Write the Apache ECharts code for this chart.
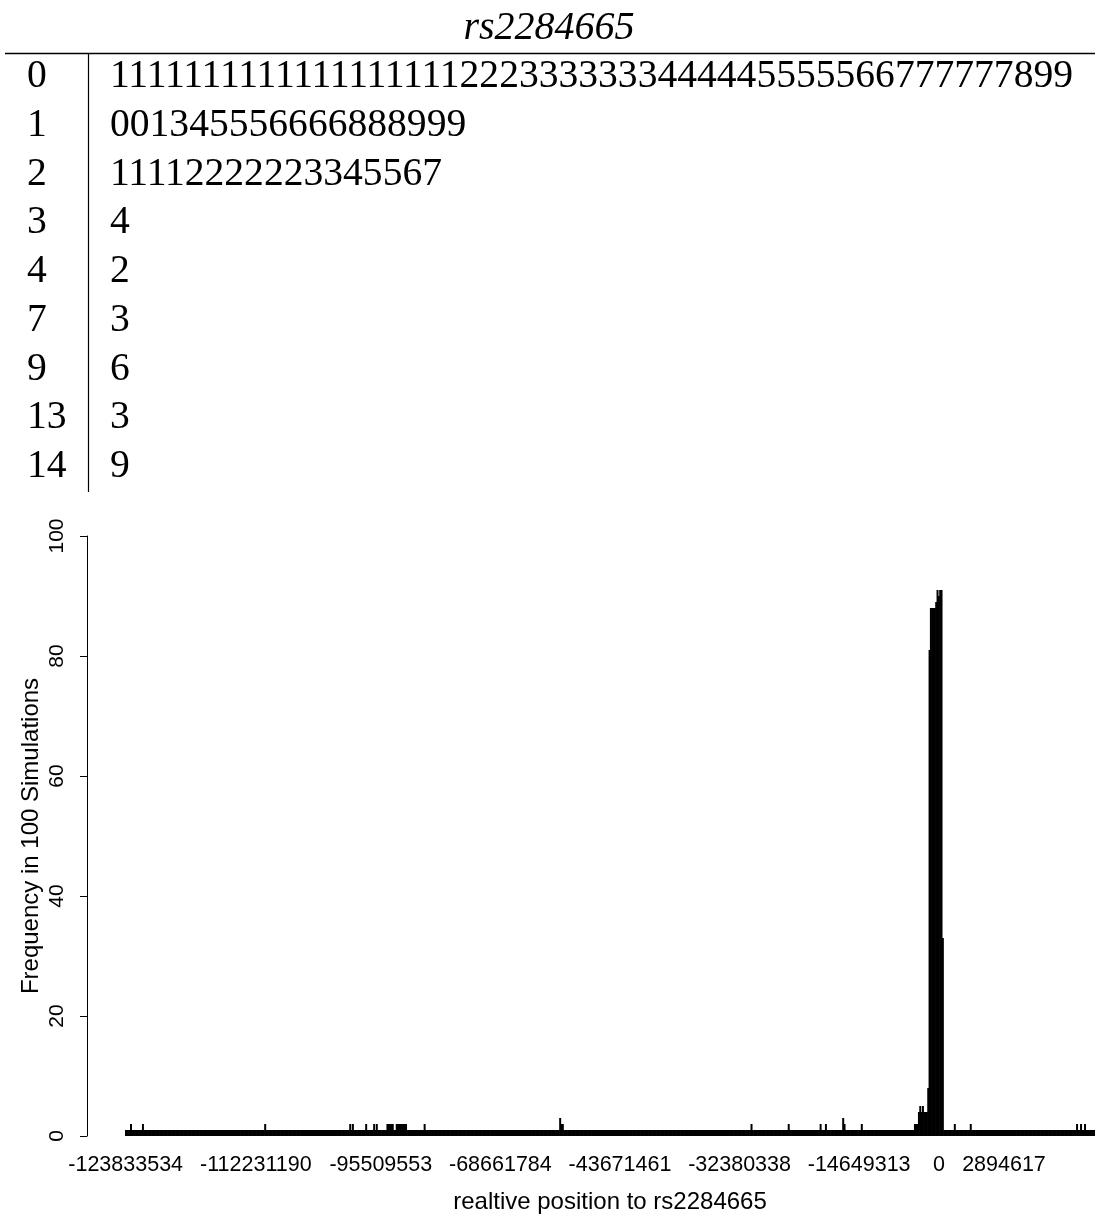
<!DOCTYPE html>
<html>
<head>
<meta charset="utf-8">
<script src="https://cdn.jsdelivr.net/npm/echarts@6/dist/echarts.min.js"></script>
<style>
html,body{margin:0;padding:0;background:#fff;}
#main{width:1108px;height:1218px;}
</style>
</head>
<body>
<div id="main"></div>
<script>
// ---- stem-and-leaf display ----
const stemTitle = 'rs2284665';
const stems = ['0', '1', '2', '3', '4', '7', '9', '13', '14'];
const leaves = [
  '11111111111111111112223333333444445555566777777899',
  '001345556666888999',
  '11112222223345567',
  '4',
  '2',
  '3',
  '6',
  '3',
  '9'
];

// ---- bar chart: frequency per position (730 positions, left to right) ----
const values = [
  1,1,1,1,2,1,1,1,1,1, 1,1,1,2,1,1,1,1,1,1, 1,1,1,1,1,1,1,1,1,1, 1,1,1,1,1,1,1,1,1,1, 1,1,1,1,1,1,1,1,1,1,
  1,1,1,1,1,1,1,1,1,1, 1,1,1,1,1,1,1,1,1,1, 1,1,1,1,1,1,1,1,1,1, 1,1,1,1,1,1,1,1,1,1, 1,1,1,1,1,1,1,1,1,1,
  1,1,1,1,1,2,1,1,1,1, 1,1,1,1,1,1,1,1,1,1, 1,1,1,1,1,1,1,1,1,1, 1,1,1,1,1,1,1,1,1,1, 1,1,1,1,1,1,1,1,1,1,
  1,1,1,1,1,1,1,1,1,1, 1,1,1,1,1,1,1,1,1,2, 1,2,1,1,1,1,1,1,1,1, 1,2,1,1,1,1,1,2,1,2, 1,1,1,1,1,1,1,2,2,2,
  2,2,1,1,2,2,2,2,2,2, 2,2,1,1,1,1,1,1,1,1, 1,1,1,1,1,2,1,1,1,1, 1,1,1,1,1,1,1,1,1,1, 1,1,1,1,1,1,1,1,1,1,
  1,1,1,1,1,1,1,1,1,1, 1,1,1,1,1,1,1,1,1,1, 1,1,1,1,1,1,1,1,1,1, 1,1,1,1,1,1,1,1,1,1, 1,1,1,1,1,1,1,1,1,1,
  1,1,1,1,1,1,1,1,1,1, 1,1,1,1,1,1,1,1,1,1, 1,1,1,1,1,1,1,3,2,2, 1,1,1,1,1,1,1,1,1,1, 1,1,1,1,1,1,1,1,1,1,
  1,1,1,1,1,1,1,1,1,1, 1,1,1,1,1,1,1,1,1,1, 1,1,1,1,1,1,1,1,1,1, 1,1,1,1,1,1,1,1,1,1, 1,1,1,1,1,1,1,1,1,1,
  1,1,1,1,1,1,1,1,1,1, 1,1,1,1,1,1,1,1,1,1, 1,1,1,1,1,1,1,1,1,1, 1,1,1,1,1,1,1,1,1,1, 1,1,1,1,1,1,1,1,1,1,
  1,1,1,1,1,1,1,1,1,1, 1,1,1,1,1,1,1,1,1,1, 1,2,1,1,1,1,1,1,1,1, 1,1,1,1,1,1,1,1,1,1, 1,1,1,1,1,1,1,1,1,2,
  1,1,1,1,1,1,1,1,1,1, 1,1,1,1,1,1,1,1,1,1, 1,1,1,2,1,1,1,2,1,1, 1,1,1,1,1,1,1,1,1,1, 3,2,1,1,1,1,1,1,1,1,
  1,1,1,1,2,1,1,1,1,1, 1,1,1,1,1,1,1,1,1,1, 1,1,1,1,1,1,1,1,1,1, 1,1,1,1,1,1,1,1,1,1, 1,1,1,1,2,2,2,4,5,4,
  5,4,4,4,8,81,88,88,88,88, 89,91,90,91,91,33,1,1,1,1, 1,1,1,1,2,1,1,1,1,1, 1,1,1,1,1,1,2,1,1,1, 1,1,1,1,1,1,1,1,1,1,
  1,1,1,1,1,1,1,1,1,1, 1,1,1,1,1,1,1,1,1,1, 1,1,1,1,1,1,1,1,1,1, 1,1,1,1,1,1,1,1,1,1, 1,1,1,1,1,1,1,1,1,1,
  1,1,1,1,1,1,1,1,1,1, 1,1,1,1,1,1,2,1,1,2, 1,1,2,1,1,1,1,1,1,1
];

// tick labels shown under the bars (bar index -> label)
const tickIndex = [0, 98, 192, 282, 372, 462, 552, 612, 661];
const tickText = ['-123833534', '-112231190', '-95509553', '-68661784', '-43671461',
                  '-32380338', '-14649313', '0', '2894617'];

const yTicks = [0, 20, 40, 60, 80, 100];
const xTitle = 'realtive position to rs2284665';
const yTitle = 'Frequency in 100 Simulations';

// ---- build ----
const categories = values.map((v, i) => String(i));
const labelMap = {};
tickIndex.forEach((idx, k) => { labelMap[idx] = tickText[k]; });

const serif = '"Liberation Serif", "Times New Roman", serif';
const sans = '"Liberation Sans", Arial, Helvetica, sans-serif';

const graphics = [];
graphics.push({
  type: 'text', x: 549, y: 28,
  style: { text: stemTitle, font: 'italic 40px ' + serif, fill: '#000', align: 'center', verticalAlign: 'middle' }
});
graphics.push({ type: 'line', shape: { x1: 5, y1: 53.5, x2: 1095, y2: 53.5 }, style: { stroke: '#000', lineWidth: 1.5 } });
graphics.push({ type: 'line', shape: { x1: 88.5, y1: 53, x2: 88.5, y2: 492 }, style: { stroke: '#000', lineWidth: 1.2 } });
stems.forEach((s, k) => {
  const yc = 77 + k * 48.7;
  graphics.push({ type: 'text', x: 27, y: yc, style: { text: s, font: '39.6px ' + serif, fill: '#000', align: 'left', verticalAlign: 'middle' } });
  graphics.push({ type: 'text', x: 110, y: yc, style: { text: leaves[k], font: '39.6px ' + serif, fill: '#000', align: 'left', verticalAlign: 'middle' } });
});

const chart = echarts.init(document.getElementById('main'), null, { renderer: 'canvas' });
chart.setOption({
  animation: false,
  backgroundColor: '#fff',
  textStyle: { fontFamily: sans, color: '#000' },
  graphic: graphics,
  grid: { left: 125, top: 536, width: 970, height: 600 },
  xAxis: {
    type: 'category',
    data: categories,
    boundaryGap: true,
    axisLine: { show: false },
    axisTick: { show: false },
    splitLine: { show: false },
    axisLabel: {
      interval: 0, hideOverlap: false, margin: 18,
      fontSize: 21.5, color: '#000', fontFamily: sans,
      formatter: (v, i) => (labelMap[i] !== undefined ? labelMap[i] : '')
    },
    name: xTitle, nameLocation: 'middle', nameGap: 54, nameMoveOverlap: false,
    nameTextStyle: { fontSize: 24, color: '#000', fontFamily: sans }
  },
  yAxis: {
    type: 'value', min: yTicks[0], max: yTicks[yTicks.length - 1], interval: 20,
    offset: 38,
    axisLine: { show: true, lineStyle: { color: '#000', width: 1 } },
    axisTick: { show: true, length: 7, lineStyle: { color: '#000', width: 1 } },
    splitLine: { show: false },
    axisLabel: { rotate: 90, margin: 19, fontSize: 21, color: '#000', fontFamily: sans },
    name: yTitle, nameLocation: 'middle', nameRotate: 90, nameGap: 44, nameMoveOverlap: false,
    nameTextStyle: { fontSize: 24, color: '#000', fontFamily: sans }
  },
  series: [{
    type: 'bar',
    data: values,
    barWidth: 2,
    itemStyle: { color: '#000' },
    emphasis: { disabled: true }
  }]
});
</script>
</body>
</html>
